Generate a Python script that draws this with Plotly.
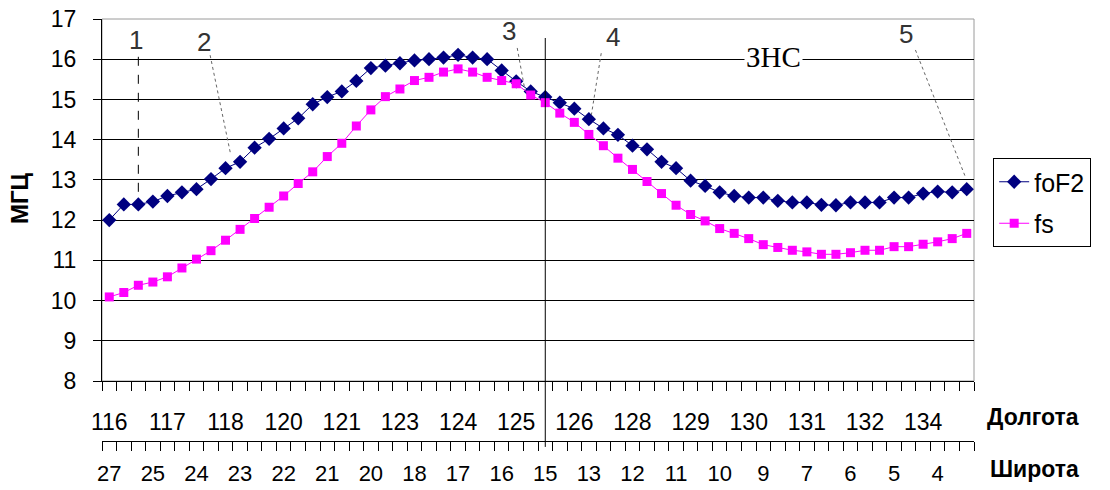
import plotly.graph_objects as go

# ---- data ----
foF2 = [12.0, 12.39, 12.39, 12.46, 12.6, 12.69, 12.77, 13.02, 13.29, 13.45,
        13.80, 14.02, 14.28, 14.53, 14.88, 15.06, 15.2, 15.46, 15.78, 15.84,
        15.9, 15.97, 16.0, 16.04, 16.11, 16.04, 16.0, 15.72, 15.45, 15.2,
        15.06, 14.92, 14.77, 14.51, 14.28, 14.12, 13.85, 13.76, 13.45, 13.29,
        12.98, 12.85, 12.69, 12.6, 12.56, 12.56, 12.48, 12.44, 12.44, 12.38,
        12.37, 12.44, 12.44, 12.44, 12.56, 12.56, 12.66, 12.71, 12.69, 12.77]
fs = [10.09, 10.2, 10.38, 10.46, 10.59, 10.81, 11.03, 11.24, 11.5, 11.77,
      12.04, 12.32, 12.6, 12.91, 13.2, 13.58, 13.91, 14.34, 14.74, 15.07,
      15.26, 15.47, 15.55, 15.68, 15.76, 15.68, 15.55, 15.47, 15.39, 15.11,
      14.92, 14.66, 14.43, 14.13, 13.85, 13.54, 13.26, 12.96, 12.66, 12.37,
      12.14, 11.98, 11.79, 11.67, 11.54, 11.39, 11.32, 11.25, 11.21, 11.15,
      11.15, 11.19, 11.25, 11.25, 11.34, 11.34, 11.4, 11.46, 11.54, 11.67]
lon_labels = ["116", "117", "118", "120", "121", "123", "124", "125",
              "126", "128", "129", "130", "131", "132", "134"]
lat_labels = ["27", "25", "24", "23", "22", "21", "20", "18", "17", "16",
              "15", "13", "12", "11", "10", "9", "7", "6", "5", "4"]
lon_step = 4
lat_step = 3
zns_index = 30          # vertical line (ЗНС) position: point 31
callouts = [            # label, point index
    ("1", 2), ("2", 9), ("3", 29), ("4", 33), ("5", 59)]

n = len(foF2)
idx = list(range(n))
FONT = "Liberation Sans, Arial, sans-serif"
TS = 23

fig = go.Figure()
fig.add_trace(go.Scatter(x=idx, y=foF2, name="foF2", mode="lines+markers",
                         line=dict(color="#000080", width=1),
                         marker=dict(symbol="diamond", size=11, color="#000080"),
                         legendgroup="a"))
fig.add_trace(go.Scatter(x=idx, y=fs, name="fs", mode="lines+markers",
                         line=dict(color="#FF00FF", width=1),
                         marker=dict(symbol="square", size=9, color="#FF00FF"),
                         legendgroup="b"))
fig.add_trace(go.Scatter(x=idx, y=[None] * n, xaxis="x2", showlegend=False,
                         hoverinfo="skip"))

rng = [-0.5, n - 0.5]
minor = dict(tickmode="array", tickvals=[k - 0.5 for k in range(n + 1)],
             ticks="outside", ticklen=9, tickcolor="black", tickwidth=1,
             showgrid=False)

ydom0 = 60 / 422
fig.update_layout(
    width=1110, height=490,
    margin=dict(l=102, r=136, t=19, b=49, autoexpand=False),
    paper_bgcolor="white", plot_bgcolor="white",
    font=dict(family=FONT, size=TS, color="black"),
    showlegend=True,
    legend=dict(x=1.022, y=(441 - 158) / 422, xanchor="left", yanchor="top",
                bordercolor="black", borderwidth=1, font=dict(size=25),
                tracegroupgap=6, bgcolor="white"),
    xaxis=dict(range=rng, tickmode="array",
               tickvals=list(range(0, n, lon_step))[:len(lon_labels)],
               ticktext=lon_labels, ticks="", ticklabelstandoff=20,
               showline=True, linecolor="black", linewidth=1,
               showgrid=False, zeroline=False, minor=minor,
               tickfont=dict(size=TS), automargin=False,
               ticklabeloverflow="allow"),
    xaxis2=dict(range=rng, overlaying="x", anchor="free", position=0,
                side="bottom", tickmode="array",
                tickvals=list(range(0, n, lat_step))[:len(lat_labels)],
                ticktext=lat_labels, ticks="", ticklabelstandoff=13,
                showline=True, linecolor="black", linewidth=1,
                showgrid=False, zeroline=False, minor=minor,
                tickfont=dict(size=22), automargin=False,
                ticklabeloverflow="allow"),
    yaxis=dict(range=[8, 17], dtick=1, domain=[ydom0, 1],
               showgrid=True, gridcolor="black", gridwidth=1,
               showline=True, linecolor="black", linewidth=1,
               ticks="outside", ticklen=8, tickcolor="black",
               ticklabelstandoff=12, zeroline=False,
               tickfont=dict(size=TS), automargin=False,
               ticklabeloverflow="allow"),
)

shapes = []
# plot area gray border (top/right)
shapes.append(dict(type="rect", xref="x domain", yref="y domain",
                   x0=0, x1=1, y0=0, y1=1, line=dict(color="#9a9a9a", width=1),
                   layer="below"))
# ЗНС vertical line
shapes.append(dict(type="line", xref="x", yref="paper",
                   x0=zns_index, x1=zns_index, y0=-0.014, y1=(441 - 38) / 422,
                   line=dict(color="black", width=1)))

# callout text positions (index, value) and leader lines
label_pos = {"1": (1.84, 16.48), "2": (6.52, 16.43), "3": (27.52, 16.70),
             "4": (34.68, 16.55), "5": (54.85, 16.63)}
lead_start = {"1": (2.0, 16.06), "2": (6.94, 16.1), "3": (28.07, 16.28),
              "4": (33.85, 16.15), "5": (55.47, 16.23)}
lead_end_off = {"1": (0.0, 0.1), "2": (-0.64, 0.17), "3": (-0.4, 0.03),
                "4": (0.17, 0.1), "5": (-0.09, 0.3)}
annotations = []
for lab, i in callouts:
    tx, ty = label_pos[lab]
    annotations.append(dict(x=tx, y=ty, xref="x", yref="y", text=lab,
                            showarrow=False, font=dict(size=26, color="#333333",
                                                       family=FONT)))
    sx, sy = lead_start[lab]
    dx, dy = lead_end_off[lab]
    shapes.append(dict(type="line", xref="x", yref="y", x0=sx, y0=sy,
                       x1=i + dx, y1=foF2[i] + dy,
                       line=dict(color="black" if lab == "1" else "#666666",
                                 width=1, dash="dash" if lab == "1" else "dot")))

annotations.append(dict(x=45.7, y=16.06, xref="x", yref="y", text="ЗНС",
                        showarrow=False, bgcolor="white",
                        font=dict(family="Liberation Serif, Times New Roman, serif",
                                  size=29, color="black")))
annotations.append(dict(x=-82 / 872, y=12.55, xref="paper", yref="y",
                        xanchor="center", yanchor="middle",
                        text="<b>МГЦ</b>", textangle=-90, showarrow=False,
                        font=dict(size=24, family=FONT)))
annotations.append(dict(x=(985 - 102) / 872, y=(441 - 417) / 422, xref="paper",
                        yref="paper", xanchor="left", yanchor="middle",
                        text="<b>Долгота</b>",
                        showarrow=False, font=dict(size=23, family=FONT)))
annotations.append(dict(x=(988 - 102) / 872, y=(441 - 469) / 422, xref="paper",
                        yref="paper", xanchor="left", yanchor="middle",
                        text="<b>Широта</b>",
                        showarrow=False, font=dict(size=23, family=FONT)))

fig.update_layout(shapes=shapes, annotations=annotations)
fig.write_html("out.html", config={"displayModeBar": False},
               post_script="document.body.style.margin='0';"
                           "document.body.style.overflow='hidden';")
